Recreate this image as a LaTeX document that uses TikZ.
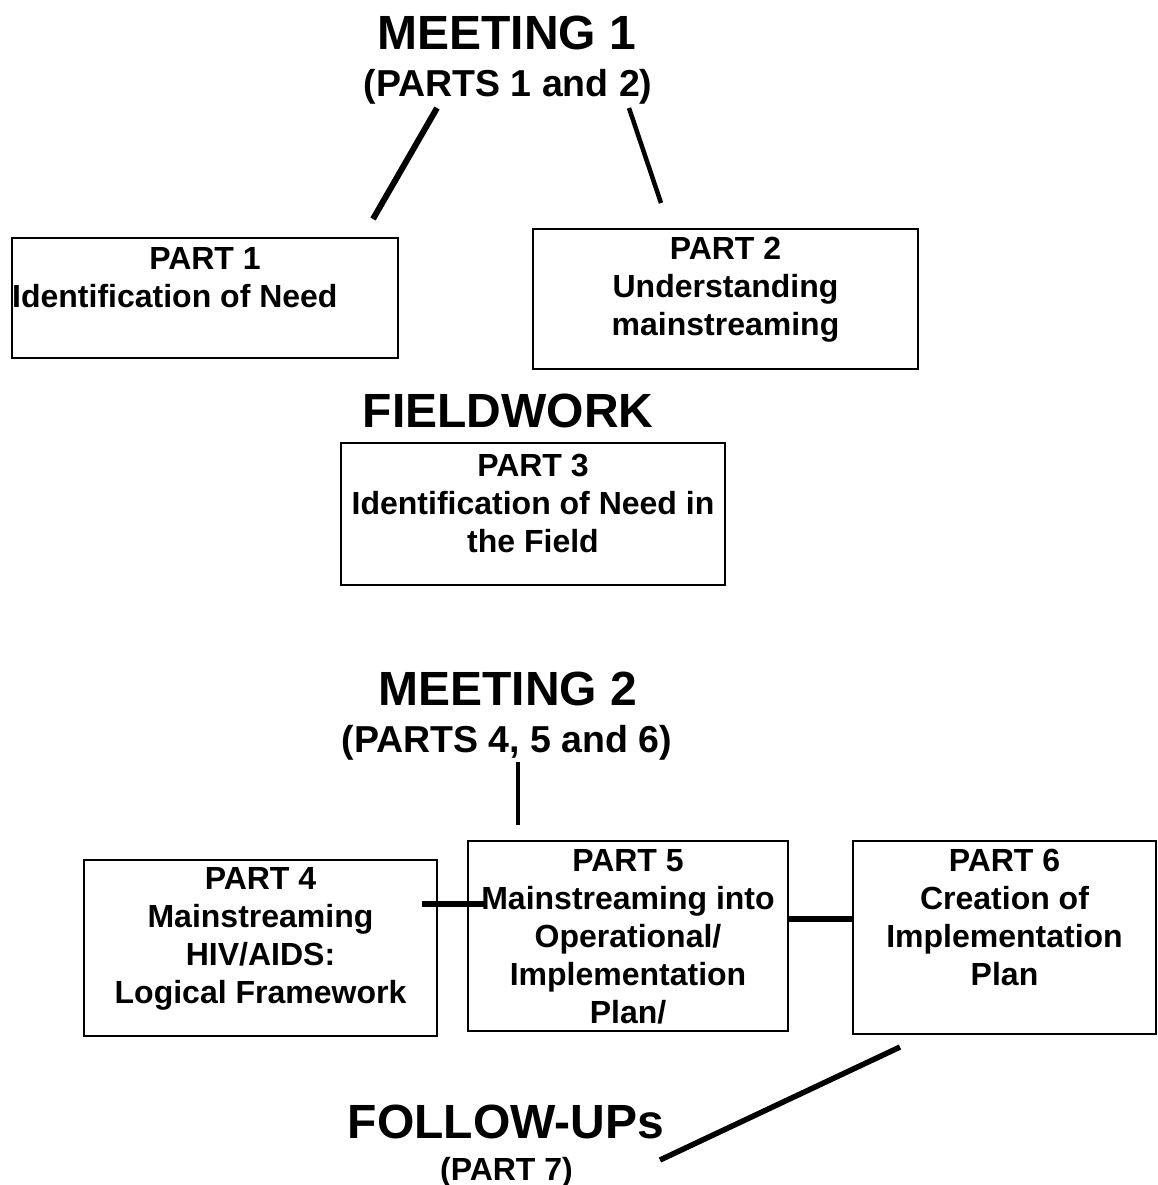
\documentclass[tikz,border=0pt]{standalone}
\usepackage{fontspec}
\setmainfont{Liberation Sans}
\usetikzlibrary{calc}
\tikzset{
  title/.style={font=\fontsize{48}{56}\selectfont\bfseries, inner sep=0pt, anchor=base},
  subtitle/.style={font=\fontsize{37.5}{44}\selectfont\bfseries, inner sep=0pt, anchor=base},
  small/.style={font=\fontsize{32}{38}\selectfont\bfseries, inner sep=0pt, anchor=base},
  stage/.style={draw, line width=2pt, inner sep=0pt, anchor=north west},
  stagetext/.style={font=\fontsize{32}{38}\selectfont\bfseries, inner sep=0pt, align=center, anchor=north},
  link/.style={line width=5.5pt},
}
\begin{document}
\begin{tikzpicture}[x=1pt,y=-1pt]
\useasboundingbox (0,0) rectangle (1157,1185);

% headings
\node[title]    (m1)  at (507,50)   {MEETING 1};
\node[subtitle] (m1s) at (508,97)   {(PARTS 1 and 2)};
\node[title]    (fw)  at (508,427)  {FIELDWORK};
\node[title]    (m2)  at (508,705)  {MEETING 2};
\node[subtitle] (m2s) at (507,752)  {(PARTS 4, 5 and 6)};
\node[title]    (fu)  at (506,1138) {FOLLOW-UPs};
\node[small]    (fus) at (506.5,1180) {(PART 7)};

% stage boxes
\node[stage, minimum width=386, minimum height=120] (p1) at (11,237)  {};
\node[stage, minimum width=385, minimum height=140] (p2) at (532,228) {};
\node[stage, minimum width=384, minimum height=142] (p3) at (340,442) {};
\node[stage, minimum width=353, minimum height=176] (p4) at (83,859)  {};
\node[stage, minimum width=320, minimum height=190] (p5) at (467,840) {};
\node[stage, minimum width=303, minimum height=193] (p6) at (852,840) {};

% box texts
\node[small] (t1a) at (p1.north |- 0,269) {PART 1};
\node[small, anchor=base west] (t1b) at (12,307) {Identification of Need};
\node[stagetext] (t2) at (p2.north |- 0,237) {PART 2\\Understanding\\mainstreaming};
\node[stagetext] (t3) at (p3.north |- 0,454) {PART 3\\Identification of Need in\\the Field};
\node[stagetext] (t4) at (p4.north |- 0,867) {PART 4\\Mainstreaming\\HIV/AIDS:\\Logical Framework};
\node[stagetext] (t5) at (p5.north |- 0,849) {PART 5\\Mainstreaming into\\Operational/\\Implementation\\Plan/};
\node[stagetext] (t6) at (p6.north |- 0,849) {PART 6\\Creation of\\Implementation\\Plan};

% free ends of the connectors
\coordinate (a1) at (437,108);
\coordinate (b1) at (373,219);
\coordinate (a2) at (629,108);
\coordinate (b2) at (661,203);
\coordinate (a3) at (518,762);
\coordinate (b3) at (518,825);
\coordinate (y45) at (0,904);
\coordinate (y56) at (0,919);
\coordinate (a7) at (900,1047);
\coordinate (b7) at (660,1160);

% connectors
\draw[line width=6pt] (a1) -- (b1);
\draw[line width=4.5pt] (a2) -- (b2);
\draw[line width=4pt] (a3) -- (b3);
\draw[link] ($(p4.east |- y45)+(-16,0)$) -- ($(p5.west |- y45)+(17,0)$);
\draw[line width=6pt] (p5.east |- y56) -- (p6.west |- y56);
\draw[link] (a7) -- (b7);
\end{tikzpicture}
\end{document}
